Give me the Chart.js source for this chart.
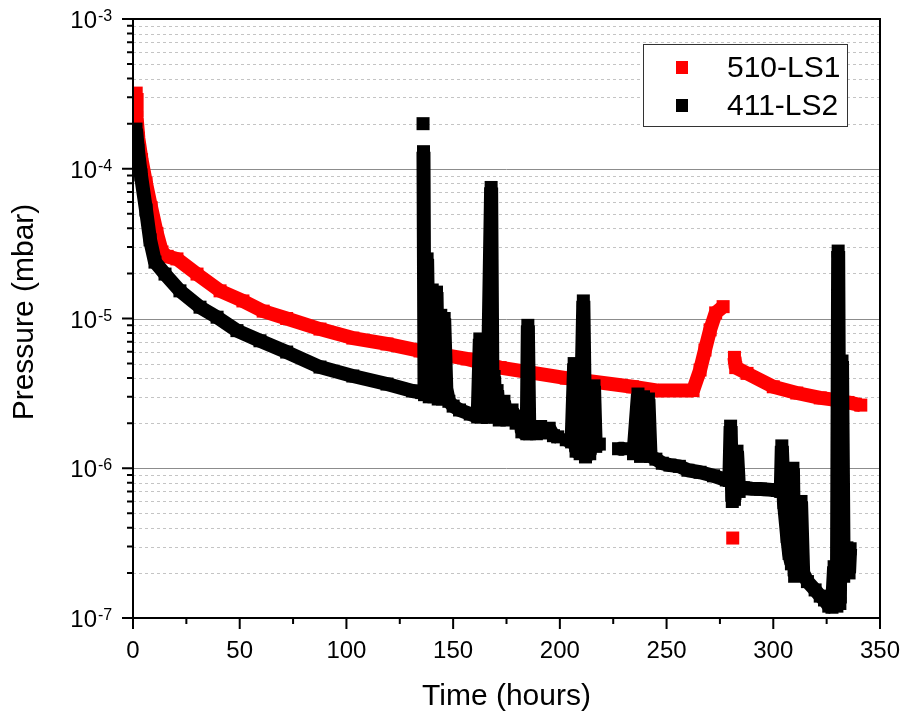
<!DOCTYPE html>
<html>
<head>
<meta charset="utf-8">
<script src="https://cdn.jsdelivr.net/npm/chart.js@4/dist/chart.umd.min.js"></script>
<style>
  html, body { margin: 0; padding: 0; background: #fff; }
  canvas { display: block; }
</style>
</head>
<body>
<canvas id="chart" width="904" height="713"></canvas>
<script>
// ---- Data (time in hours, pressure in mbar) ----
var RED_LABEL = '510-LS1';
var RED_T = [1.5, 1.7, 2.5, 4, 6.1, 8.5, 11.2, 13.6, 16, 20.6, 30, 40.8, 51.5, 61, 72, 87.6, 103, 119,
  134.5, 156.5, 172, 203, 234, 246, 262.4, 265.7, 268, 270.4, 273, 276.5,
  278.5, 281, 281.3, 281.8, 282.4, 287.7, 300, 311, 322, 330, 335, 341];
var RED_P = [3.2e-4, 2.2e-4, 1.6e-4, 1.15e-4, 8.0e-5, 5.5e-5, 3.7e-5, 2.78e-5, 2.6e-5, 2.5e-5, 1.98e-5,
  1.53e-5, 1.31e-5, 1.12e-5, 1.0e-5, 8.5e-6, 7.4e-6, 6.76e-6,
  6.07e-6, 5.37e-6, 4.7e-6, 4.0e-6, 3.5e-6, 3.3e-6, 3.3e-6, 4.53e-6, 6.16e-6, 8.4e-6, 1.09e-5, 1.2e-5,
  null, 3.42e-7, null, 5.5e-6, 4.7e-6, 4.3e-6, 3.5e-6, 3.18e-6, 2.95e-6, 2.85e-6, 2.75e-6, 2.64e-6];

var BLACK_LABEL = '411-LS2';
var BLACK_T = [1.4, 2.3, 3.7, 6.1, 8, 10.3, 15, 22, 31.4, 39.4, 48.7, 59.5, 72, 87.6, 103, 119, 131, 135.3,
  135.6, 135.9, 136.0, 136.1, 136.6, 137.8, 138.8, 140.2, 141, 142.2, 143, 144.2, 145, 145.8, 146.8, 148,
  150, 153, 158, 161.5, 162.5, 163.3, 166, 167.8, 168.5, 169.2, 169.8, 170.6, 171.6, 173.8, 175.2, 177.6,
  179.5, 181.5, 182.2, 184.5, 185, 185.7, 187.5, 189, 191, 193, 195, 197, 199,
  200.5, 203, 205.5, 206.7, 207.6, 209.5, 211, 212, 214, 216, 216.8, 218.5,
  222, 227.5, 230, 232, 234.5, 236.6, 237.8, 239.2, 240.2, 241.5, 242.5, 245, 248, 251.6, 256, 260,
  265.7, 272, 278, 279.4, 280, 280.8, 281.8, 283, 284, 286, 290, 294, 298, 302, 303.5, 304, 305,
  306.5, 307.4, 308.5, 309.2, 310, 312, 313, 314, 316, 319.6, 322, 324, 326, 327.5, 328.5, 329.8,
  330.4, 331.2, 332.2, 333, 334.5, 335.5, 336];
var BLACK_P = [1.84e-4, 1.33e-4, 9.1e-5, 5.3e-5, 3.35e-5, 2.38e-5, 1.98e-5, 1.53e-5, 1.19e-5, 1.02e-5,
  8.3e-6, 7.1e-6, 5.97e-6, 4.74e-6, 4.13e-6, 3.65e-6, 3.28e-6, 3.2e-6,
  null, 2.0e-4, null, 1.3e-4, 3.1e-6, 2.5e-5, 3.0e-6, 1.55e-5, 3.0e-6, 1.5e-5, 2.9e-6, 1.05e-5, 2.9e-6,
  1.0e-5, 3.4e-6, 2.8e-6,
  2.6e-6, 2.45e-6, 2.3e-6, 2.2e-6, 7.3e-6, 2.2e-6, 2.2e-6, 7.5e-5, 2.2e-6, 4.1e-6, 2.2e-6, 3.3e-6,
  2.1e-6, 2.8e-6, 2.1e-6, 2.45e-6,
  2.0e-6, 2.23e-6, 1.75e-6, 1.7e-6, 9.0e-6, 1.7e-6, 1.9e-6, 1.7e-6, 1.9e-6, 1.72e-6, 1.85e-6, 1.65e-6, 1.62e-6,
  null, 1.55e-6, 1.5e-6, 5.0e-6, 1.3e-6, 1.25e-6, 1.31e-5, 1.19e-6, 1.25e-6, 3.55e-6, 1.4e-6, 1.45e-6,
  null, 1.35e-6, 1.35e-6, null, 1.25e-6, 3.13e-6, 1.2e-6, 3.0e-6, 1.22e-6, 2.9e-6, 1.2e-6, 1.15e-6,
  1.08e-6, 1.05e-6, 1.03e-6, 9.7e-7,
  9.4e-7, 8.9e-7, 8.35e-7, 8.3e-7, 1.91e-6, 6.0e-7, 6.2e-7, 1.3e-6, 7.0e-7, 7.4e-7, 7.3e-7, 7.26e-7,
  7.2e-7, 7.1e-7, 7.0e-7, 1.41e-6, 5.9e-7,
  3.5e-7, 2.7e-7, 2.3e-7, 1.0e-6, 1.9e-7, 2.0e-7, 6.0e-7, 2.0e-7, 1.75e-7, 1.54e-7, 1.4e-7, 1.32e-7,
  1.2e-7, 1.18e-7, 2.2e-7, 1.2e-7,
  2.82e-5, 1.25e-7, 5.2e-6, 1.9e-7, 2.94e-7, 2.0e-7, 2.9e-7];

// ---- Axis ticks ----
var X_MAJOR = [0, 50, 100, 150, 200, 250, 300, 350];
var X_MINOR = [25, 75, 125, 175, 225, 275, 325];
var Y_DECADES = [-7, -6, -5, -4, -3];
var Y_MINOR_MULT = [2, 3, 4, 5, 6, 7, 8, 9];

var X_TITLE = 'Time (hours)';
var Y_TITLE = 'Pressure (mbar)';

var FONT = "'Liberation Sans', Arial, sans-serif";

function toPoints(ts, ps) {
  return ts.map(function (t, i) { return { x: t, y: ps[i] }; });
}

// ---- Axes, grid, legend drawn on top of the library scales ----
var decorPlugin = {
  id: 'decor',
  beforeDatasetsDraw: function (chart) {
    var ctx = chart.ctx, a = chart.chartArea, ys = chart.scales.y;
    ctx.save();
    ctx.lineWidth = 1;
    // minor grid (dashed)
    ctx.strokeStyle = '#c4c4c4';
    ctx.setLineDash([3, 3]);
    Y_DECADES.slice(0, -1).forEach(function (e) {
      Y_MINOR_MULT.forEach(function (m) {
        var py = Math.round(ys.getPixelForValue(m * Math.pow(10, e))) + 0.5;
        ctx.beginPath(); ctx.moveTo(a.left, py); ctx.lineTo(a.right, py); ctx.stroke();
      });
    });
    // major grid (solid)
    ctx.setLineDash([]);
    ctx.strokeStyle = '#8c8c8c';
    Y_DECADES.slice(1, -1).forEach(function (e) {
      var py = Math.round(ys.getPixelForValue(Math.pow(10, e))) + 0.5;
      ctx.beginPath(); ctx.moveTo(a.left, py); ctx.lineTo(a.right, py); ctx.stroke();
    });
    ctx.restore();
  },
  afterDatasetsDraw: function (chart) {
    var ctx = chart.ctx, a = chart.chartArea, xs = chart.scales.x, ys = chart.scales.y;
    ctx.save();
    ctx.strokeStyle = '#000';
    ctx.fillStyle = '#000';
    ctx.lineWidth = 2;
    ctx.strokeRect(a.left, a.top, a.right - a.left, a.bottom - a.top);

    // y ticks
    ctx.beginPath();
    Y_DECADES.forEach(function (e, i) {
      var py = ys.getPixelForValue(Math.pow(10, e));
      ctx.moveTo(a.left - 11, py); ctx.lineTo(a.left, py);
      if (i < Y_DECADES.length - 1) {
        Y_MINOR_MULT.forEach(function (m) {
          var pm = ys.getPixelForValue(m * Math.pow(10, e));
          ctx.moveTo(a.left - 6, pm); ctx.lineTo(a.left, pm);
        });
      }
    });
    // x ticks
    X_MAJOR.forEach(function (v) {
      var px = xs.getPixelForValue(v);
      ctx.moveTo(px, a.bottom); ctx.lineTo(px, a.bottom + 11);
    });
    X_MINOR.forEach(function (v) {
      var px = xs.getPixelForValue(v);
      ctx.moveTo(px, a.bottom); ctx.lineTo(px, a.bottom + 6);
    });
    ctx.stroke();

    // x tick labels
    ctx.font = '24px ' + FONT;
    ctx.textAlign = 'center';
    ctx.textBaseline = 'alphabetic';
    X_MAJOR.forEach(function (v) {
      ctx.fillText(String(v), xs.getPixelForValue(v), a.bottom + 40);
    });

    // y tick labels: 10 with superscript exponent
    Y_DECADES.forEach(function (e) {
      var py = ys.getPixelForValue(Math.pow(10, e));
      ctx.font = '24px ' + FONT;
      ctx.textAlign = 'right';
      ctx.fillText('10', 97, py + 9);
      ctx.font = '16px ' + FONT;
      ctx.textAlign = 'left';
      ctx.fillText(String(e), 98, py + 2);
    });

    // axis titles
    ctx.font = '30px ' + FONT;
    ctx.textAlign = 'center';
    ctx.fillText(X_TITLE, (a.left + a.right) / 2, 705);
    ctx.save();
    ctx.translate(33, 312);
    ctx.rotate(-Math.PI / 2);
    ctx.fillText(Y_TITLE, 0, 0);
    ctx.restore();

    // legend
    ctx.lineWidth = 1;
    ctx.strokeStyle = '#333';
    ctx.fillStyle = '#fff';
    ctx.fillRect(643.5, 44.5, 204, 82);
    ctx.strokeRect(643.5, 44.5, 204, 82);
    var rows = [chart.data.datasets[1], chart.data.datasets[0]];
    rows.forEach(function (ds, i) {
      var cy = 67 + i * 38;
      ctx.fillStyle = ds.backgroundColor;
      ctx.fillRect(676, cy - 6, 12, 13);
      ctx.fillStyle = '#000';
      ctx.font = '30px ' + FONT;
      ctx.textAlign = 'left';
      ctx.fillText(ds.label, 727, cy + 10);
    });
    ctx.restore();
  }
};

function seriesStyle(color) {
  return {
    borderColor: color,
    backgroundColor: color,
    borderWidth: 14,
    borderJoinStyle: 'bevel',
    pointStyle: 'rect',
    pointRadius: 9.2,
    pointBorderWidth: 0,
    pointBackgroundColor: color,
    tension: 0,
    spanGaps: false,
    clip: 0
  };
}

var blackSet = Object.assign({ label: BLACK_LABEL, data: toPoints(BLACK_T, BLACK_P) }, seriesStyle('#000000'));
var redSet = Object.assign({ label: RED_LABEL, data: toPoints(RED_T, RED_P) }, seriesStyle('#ff0000'));

new Chart(document.getElementById('chart'), {
  type: 'line',
  data: { datasets: [blackSet, redSet] },
  options: {
    responsive: false,
    animation: false,
    layout: { padding: { left: 0, top: 19, right: 24, bottom: 0 } },
    plugins: { legend: { display: false }, tooltip: { enabled: false } },
    scales: {
      x: {
        type: 'linear', min: 0, max: 350,
        ticks: { display: false }, grid: { display: false }, border: { display: false },
        afterFit: function (s) { s.height = 95; }
      },
      y: {
        type: 'logarithmic', min: 1e-7, max: 1e-3,
        ticks: { display: false }, grid: { display: false }, border: { display: false },
        afterFit: function (s) { s.width = 133; }
      }
    }
  },
  plugins: [decorPlugin]
});
</script>
</body>
</html>
